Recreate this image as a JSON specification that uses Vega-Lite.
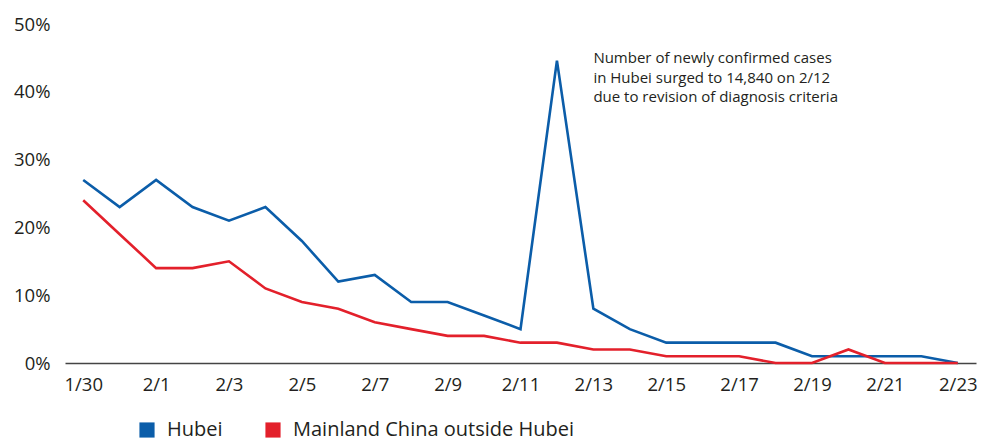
{
  "$schema": "https://vega.github.io/schema/vega-lite/v6.json",
  "autosize": "none",
  "width": 911,
  "height": 339,
  "padding": {"left": 65, "top": 24, "right": 14, "bottom": 78},
  "background": "white",
  "config": {
    "view": {"stroke": null},
    "font": "Open Sans"
  },
  "datasets": {
    "cases": [
      {"date": "1/30", "series": "Hubei", "value": 27},
      {"date": "1/31", "series": "Hubei", "value": 23},
      {"date": "2/1", "series": "Hubei", "value": 27},
      {"date": "2/2", "series": "Hubei", "value": 23},
      {"date": "2/3", "series": "Hubei", "value": 21},
      {"date": "2/4", "series": "Hubei", "value": 23},
      {"date": "2/5", "series": "Hubei", "value": 18},
      {"date": "2/6", "series": "Hubei", "value": 12},
      {"date": "2/7", "series": "Hubei", "value": 13},
      {"date": "2/8", "series": "Hubei", "value": 9},
      {"date": "2/9", "series": "Hubei", "value": 9},
      {"date": "2/10", "series": "Hubei", "value": 7},
      {"date": "2/11", "series": "Hubei", "value": 5},
      {"date": "2/12", "series": "Hubei", "value": 44.6},
      {"date": "2/13", "series": "Hubei", "value": 8},
      {"date": "2/14", "series": "Hubei", "value": 5},
      {"date": "2/15", "series": "Hubei", "value": 3},
      {"date": "2/16", "series": "Hubei", "value": 3},
      {"date": "2/17", "series": "Hubei", "value": 3},
      {"date": "2/18", "series": "Hubei", "value": 3},
      {"date": "2/19", "series": "Hubei", "value": 1},
      {"date": "2/20", "series": "Hubei", "value": 1},
      {"date": "2/21", "series": "Hubei", "value": 1},
      {"date": "2/22", "series": "Hubei", "value": 1},
      {"date": "2/23", "series": "Hubei", "value": 0},
      {"date": "1/30", "series": "Mainland China outside Hubei", "value": 24},
      {"date": "1/31", "series": "Mainland China outside Hubei", "value": 19},
      {"date": "2/1", "series": "Mainland China outside Hubei", "value": 14},
      {"date": "2/2", "series": "Mainland China outside Hubei", "value": 14},
      {"date": "2/3", "series": "Mainland China outside Hubei", "value": 15},
      {"date": "2/4", "series": "Mainland China outside Hubei", "value": 11},
      {"date": "2/5", "series": "Mainland China outside Hubei", "value": 9},
      {"date": "2/6", "series": "Mainland China outside Hubei", "value": 8},
      {"date": "2/7", "series": "Mainland China outside Hubei", "value": 6},
      {"date": "2/8", "series": "Mainland China outside Hubei", "value": 5},
      {"date": "2/9", "series": "Mainland China outside Hubei", "value": 4},
      {"date": "2/10", "series": "Mainland China outside Hubei", "value": 4},
      {"date": "2/11", "series": "Mainland China outside Hubei", "value": 3},
      {"date": "2/12", "series": "Mainland China outside Hubei", "value": 3},
      {"date": "2/13", "series": "Mainland China outside Hubei", "value": 2},
      {"date": "2/14", "series": "Mainland China outside Hubei", "value": 2},
      {"date": "2/15", "series": "Mainland China outside Hubei", "value": 1},
      {"date": "2/16", "series": "Mainland China outside Hubei", "value": 1},
      {"date": "2/17", "series": "Mainland China outside Hubei", "value": 1},
      {"date": "2/18", "series": "Mainland China outside Hubei", "value": 0},
      {"date": "2/19", "series": "Mainland China outside Hubei", "value": 0},
      {"date": "2/20", "series": "Mainland China outside Hubei", "value": 2},
      {"date": "2/21", "series": "Mainland China outside Hubei", "value": 0},
      {"date": "2/22", "series": "Mainland China outside Hubei", "value": 0},
      {"date": "2/23", "series": "Mainland China outside Hubei", "value": 0}
    ],
    "note": [
      {"date": "2/13", "value": 46, "label": ["Number of newly confirmed cases", "in Hubei surged to 14,840 on 2/12", "due to revision of diagnosis criteria"]}
    ]
  },
  "layer": [
    {
      "data": {"name": "cases"},
      "mark": {"type": "line", "strokeWidth": 2.6, "strokeJoin": "miter"},
      "encoding": {
        "x": {
          "field": "date",
          "type": "ordinal",
          "scale": {
            "type": "point",
            "padding": 0.5,
            "domain": ["1/30", "1/31", "2/1", "2/2", "2/3", "2/4", "2/5", "2/6", "2/7", "2/8", "2/9", "2/10", "2/11", "2/12", "2/13", "2/14", "2/15", "2/16", "2/17", "2/18", "2/19", "2/20", "2/21", "2/22", "2/23"]
          },
          "axis": {
            "title": null,
            "values": ["1/30", "2/1", "2/3", "2/5", "2/7", "2/9", "2/11", "2/13", "2/15", "2/17", "2/19", "2/21", "2/23"],
            "labelAngle": 0,
            "ticks": false,
            "domainColor": "#444444",
            "domainWidth": 1.6,
            "labelFontSize": 18.5,
            "labelColor": "#231f20",
            "labelPadding": 12,
            "grid": false
          }
        },
        "y": {
          "field": "value",
          "type": "quantitative",
          "scale": {"domain": [0, 50], "nice": false},
          "axis": {
            "title": null,
            "values": [0, 10, 20, 30, 40, 50],
            "labelExpr": "datum.value + '%'",
            "domain": false,
            "ticks": false,
            "grid": false,
            "labelFontSize": 18.5,
            "labelColor": "#231f20",
            "labelPadding": 15
          }
        },
        "color": {
          "field": "series",
          "type": "nominal",
          "scale": {"domain": ["Hubei", "Mainland China outside Hubei"], "range": ["#0B5DA9", "#E3202B"]},
          "legend": {
            "title": null,
            "orient": "none",
            "legendX": 72,
            "legendY": 396,
            "direction": "horizontal",
            "symbolType": "square",
            "symbolSize": 230,
            "symbolStrokeWidth": 0,
            "symbolOpacity": 1,
            "labelFontSize": 20,
            "labelLimit": 0,
            "labelColor": "#231f20",
            "labelOffset": 10,
            "columnPadding": 40,
            "encode": {
              "symbols": {"update": {"fill": {"scale": "color", "field": "value"}, "strokeWidth": {"value": 0}}}
            }
          }
        }
      }
    },
    {
      "data": {"name": "note"},
      "mark": {"type": "text", "align": "left", "baseline": "top", "fontSize": 15, "lineHeight": 19.5, "color": "#231f20"},
      "encoding": {
        "x": {"field": "date", "type": "ordinal"},
        "y": {"field": "value", "type": "quantitative"},
        "text": {"field": "label"}
      }
    }
  ]
}
